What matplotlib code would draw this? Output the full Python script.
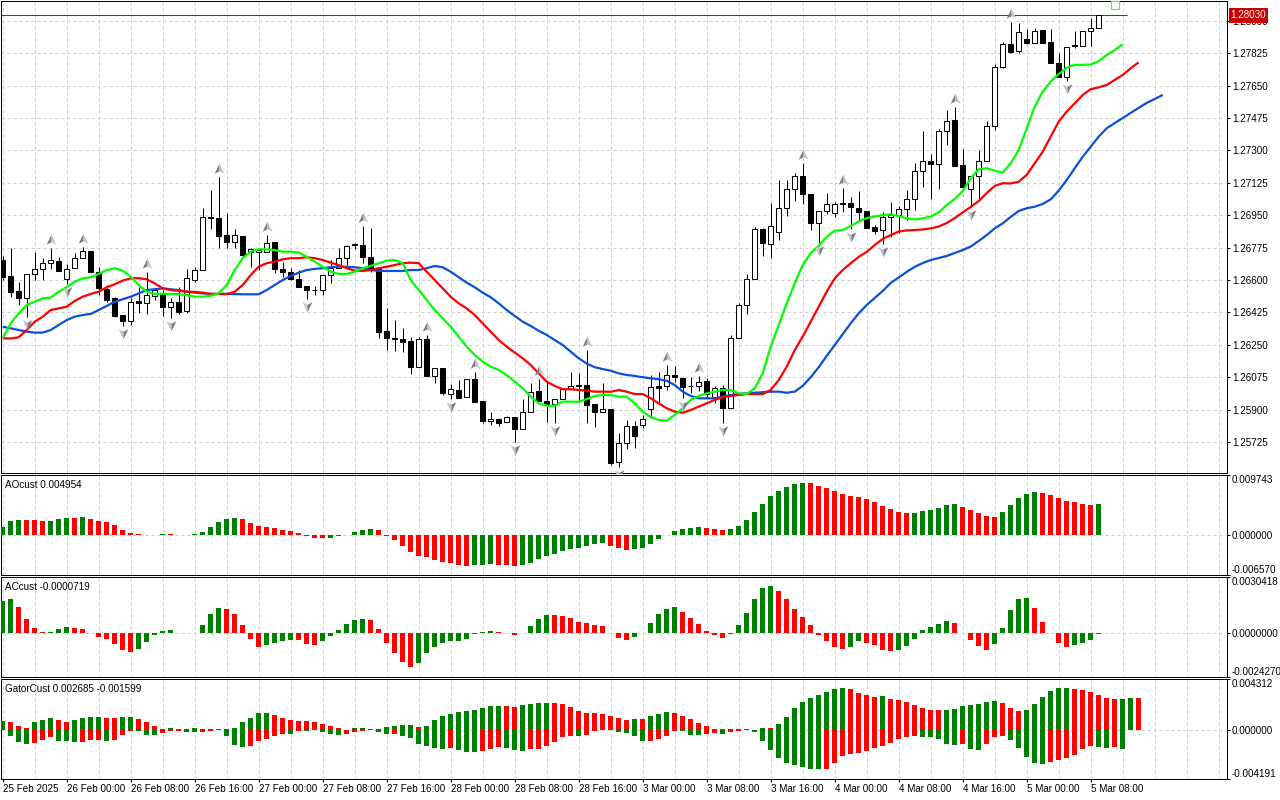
import numpy as np
import matplotlib
matplotlib.use("Agg")
import matplotlib.pyplot as plt
from matplotlib.path import Path
from matplotlib.transforms import offset_copy, blended_transform_factory

# --- GBPUSD-like H1 candles, 25 Feb 16:00 .. 5 Mar 09:00 -------------------
opens = [
    1.26708, 1.26622, 1.26541, 1.26503, 1.26633, 1.26660, 1.26692, 1.26703, 1.26606, 1.26665,
    1.26719, 1.26757, 1.26644, 1.26552, 1.26503, 1.26411, 1.26379, 1.26487, 1.26476, 1.26514,
    1.26530, 1.26454, 1.26481, 1.26433, 1.26600, 1.26654, 1.26941, 1.26935, 1.26843, 1.26806,
    1.26838, 1.26752, 1.26752, 1.26752, 1.26806, 1.26660, 1.26644, 1.26606, 1.26568, 1.26546,
    1.26546, 1.26627, 1.26665, 1.26719, 1.26789, 1.26789, 1.26725, 1.26665, 1.26325, 1.26287,
    1.26282, 1.26271, 1.26130, 1.26282, 1.26082, 1.26125, 1.25984, 1.26006, 1.25968, 1.26065,
    1.25947, 1.25839, 1.25849, 1.25833, 1.25860, 1.25795, 1.25887, 1.26001, 1.25947, 1.25930,
    1.25957, 1.26011, 1.26033, 1.26033, 1.25930, 1.25887, 1.25903, 1.25617, 1.25720, 1.25812,
    1.25817, 1.25903, 1.26028, 1.26028, 1.26087, 1.26071, 1.26028, 1.26028, 1.26055, 1.25968,
    1.26017, 1.25909, 1.26287, 1.26465, 1.26606, 1.26876, 1.26795, 1.26860, 1.26989, 1.27092,
    1.27162, 1.27065, 1.26908, 1.26973, 1.26962, 1.27016, 1.27016, 1.26989, 1.26973, 1.26887,
    1.26870, 1.26941, 1.26951, 1.26984, 1.27038, 1.27189, 1.27243, 1.27227, 1.27405, 1.27465,
    1.27222, 1.27092, 1.27162, 1.27243, 1.27432, 1.27751, 1.27875, 1.27837, 1.27902, 1.27881,
    1.27951, 1.27886, 1.27773, 1.27697, 1.27870, 1.27864, 1.27946, 1.27962,
]
highs = [
    1.26730, 1.26773, 1.26590, 1.26633, 1.26752, 1.26719, 1.26773, 1.26725, 1.26687, 1.26746,
    1.26779, 1.26757, 1.26671, 1.26573, 1.26508, 1.26411, 1.26503, 1.26562, 1.26644, 1.26557,
    1.26546, 1.26503, 1.26562, 1.26660, 1.26671, 1.26989, 1.27087, 1.27157, 1.26962, 1.26876,
    1.26838, 1.26773, 1.26773, 1.26843, 1.26806, 1.26698, 1.26665, 1.26654, 1.26568, 1.26568,
    1.26627, 1.26708, 1.26773, 1.26789, 1.26800, 1.26892, 1.26881, 1.26665, 1.26449, 1.26384,
    1.26341, 1.26292, 1.26292, 1.26303, 1.26125, 1.26125, 1.26038, 1.26060, 1.26065, 1.26103,
    1.25947, 1.25887, 1.25855, 1.25866, 1.25860, 1.25957, 1.26044, 1.26065, 1.26049, 1.25957,
    1.26011, 1.26103, 1.26098, 1.26222, 1.25930, 1.26044, 1.25903, 1.25774, 1.25844, 1.25839,
    1.25871, 1.26087, 1.26103, 1.26141, 1.26136, 1.26076, 1.26076, 1.26082, 1.26071, 1.26028,
    1.26033, 1.26303, 1.26476, 1.26633, 1.26887, 1.26881, 1.27016, 1.27141, 1.27141, 1.27178,
    1.27232, 1.27065, 1.26973, 1.27070, 1.27022, 1.27097, 1.27049, 1.27081, 1.26973, 1.26897,
    1.26968, 1.27022, 1.27000, 1.27087, 1.27232, 1.27405, 1.27281, 1.27416, 1.27519, 1.27535,
    1.27308, 1.27162, 1.27303, 1.27459, 1.27767, 1.27886, 1.27994, 1.27989, 1.27956, 1.27962,
    1.27951, 1.27956, 1.27827, 1.27859, 1.27946, 1.27946, 1.28016, 1.28032,
]
lows = [
    1.26600, 1.26508, 1.26465, 1.26400, 1.26600, 1.26600, 1.26660, 1.26649, 1.26579, 1.26665,
    1.26719, 1.26638, 1.26519, 1.26481, 1.26400, 1.26352, 1.26357, 1.26422, 1.26417, 1.26492,
    1.26406, 1.26395, 1.26417, 1.26422, 1.26590, 1.26654, 1.26876, 1.26773, 1.26773, 1.26773,
    1.26725, 1.26671, 1.26654, 1.26752, 1.26638, 1.26617, 1.26600, 1.26562, 1.26498, 1.26519,
    1.26519, 1.26584, 1.26665, 1.26681, 1.26768, 1.26692, 1.26644, 1.26287, 1.26222, 1.26217,
    1.26211, 1.26092, 1.26130, 1.26082, 1.26044, 1.25979, 1.25957, 1.25963, 1.25968, 1.25941,
    1.25828, 1.25817, 1.25812, 1.25833, 1.25725, 1.25795, 1.25887, 1.25947, 1.25833, 1.25828,
    1.25957, 1.26011, 1.25941, 1.25828, 1.25806, 1.25887, 1.25601, 1.25590, 1.25687, 1.25693,
    1.25801, 1.25855, 1.25941, 1.26006, 1.26049, 1.25963, 1.25990, 1.26001, 1.25963, 1.25936,
    1.25828, 1.25903, 1.26287, 1.26417, 1.26606, 1.26730, 1.26719, 1.26816, 1.26946, 1.27027,
    1.27011, 1.26870, 1.26800, 1.26957, 1.26941, 1.26968, 1.26876, 1.26919, 1.26881, 1.26849,
    1.26795, 1.26833, 1.26854, 1.26924, 1.26978, 1.27103, 1.27038, 1.27092, 1.27330, 1.27216,
    1.27092, 1.26995, 1.27038, 1.27243, 1.27411, 1.27746, 1.27827, 1.27827, 1.27875, 1.27881,
    1.27881, 1.27773, 1.27697, 1.27675, 1.27854, 1.27864, 1.27864, 1.27962,
]
closes = [
    1.26617, 1.26535, 1.26503, 1.26633, 1.26660, 1.26692, 1.26708, 1.26649, 1.26660, 1.26719,
    1.26757, 1.26644, 1.26557, 1.26492, 1.26406, 1.26379, 1.26481, 1.26476, 1.26519, 1.26546,
    1.26454, 1.26481, 1.26427, 1.26611, 1.26654, 1.26941, 1.26935, 1.26838, 1.26806, 1.26843,
    1.26735, 1.26768, 1.26762, 1.26800, 1.26660, 1.26644, 1.26606, 1.26562, 1.26546, 1.26545,
    1.26627, 1.26665, 1.26719, 1.26784, 1.26795, 1.26725, 1.26665, 1.26319, 1.26287, 1.26282,
    1.26265, 1.26130, 1.26282, 1.26082, 1.26125, 1.25990, 1.26011, 1.25963, 1.26065, 1.25941,
    1.25839, 1.25849, 1.25828, 1.25860, 1.25795, 1.25887, 1.25995, 1.25947, 1.25930, 1.25957,
    1.26011, 1.26028, 1.26028, 1.25925, 1.25887, 1.25903, 1.25612, 1.25720, 1.25812, 1.25758,
    1.25849, 1.26022, 1.26017, 1.26087, 1.26076, 1.26022, 1.26027, 1.26049, 1.25984, 1.26017,
    1.25909, 1.26287, 1.26465, 1.26606, 1.26876, 1.26800, 1.26892, 1.26989, 1.27092, 1.27162,
    1.27065, 1.26908, 1.26973, 1.27011, 1.27011, 1.27011, 1.26995, 1.26968, 1.26881, 1.26865,
    1.26941, 1.26951, 1.26984, 1.27038, 1.27189, 1.27243, 1.27227, 1.27405, 1.27459, 1.27216,
    1.27103, 1.27162, 1.27243, 1.27432, 1.27751, 1.27875, 1.27832, 1.27940, 1.27881, 1.27946,
    1.27881, 1.27773, 1.27697, 1.27859, 1.27864, 1.27946, 1.27962, 1.28030,
]

# Alligator lines (already shifted forward: lips +3, teeth +5, jaw +8 bars)
lips = [
    1.26285, 1.26366, 1.26420, 1.26465, 1.26483, 1.26501, 1.26505, 1.26537, 1.26561, 1.26591,
    1.26609, 1.26615, 1.26633, 1.26654, 1.26664, 1.26651, 1.26618, 1.26573, 1.26537, 1.26525,
    1.26526, 1.26525, 1.26524, 1.26519, 1.26510, 1.26510, 1.26515, 1.26528, 1.26573, 1.26654,
    1.26718, 1.26753, 1.26766, 1.26766, 1.26762, 1.26753, 1.26753, 1.26749, 1.26726, 1.26699,
    1.26672, 1.26645, 1.26633, 1.26633, 1.26645, 1.26664, 1.26676, 1.26691, 1.26705, 1.26708,
    1.26691, 1.26600, 1.26546, 1.26492, 1.26438, 1.26393, 1.26348, 1.26294, 1.26240, 1.26195,
    1.26159, 1.26132, 1.26114, 1.26087, 1.26051, 1.26015, 1.25970, 1.25934, 1.25921, 1.25921,
    1.25943, 1.25943, 1.25942, 1.25957, 1.25974, 1.25979, 1.25979, 1.25970, 1.25970, 1.25934,
    1.25889, 1.25859, 1.25844, 1.25840, 1.25871, 1.25907, 1.25952, 1.25974, 1.25988, 1.25997,
    1.26006, 1.26006, 1.25988, 1.25984, 1.26015, 1.26096, 1.26240, 1.26357, 1.26474, 1.26582,
    1.26681, 1.26745, 1.26784, 1.26834, 1.26867, 1.26870, 1.26892, 1.26916, 1.26935, 1.26943,
    1.26951, 1.26954, 1.26946, 1.26933, 1.26927, 1.26933, 1.26943, 1.26965, 1.27005, 1.27038,
    1.27081, 1.27150, 1.27198, 1.27204, 1.27191, 1.27180, 1.27231, 1.27303, 1.27420, 1.27537,
    1.27618, 1.27672, 1.27713, 1.27747, 1.27762, 1.27763, 1.27764, 1.27783, 1.27816, 1.27843,
    1.27874,
]
teeth = [
    1.26285, 1.26284, 1.26291, 1.26330, 1.26375, 1.26402, 1.26438, 1.26447, 1.26456, 1.26487,
    1.26510, 1.26525, 1.26537, 1.26561, 1.26577, 1.26597, 1.26609, 1.26610, 1.26604, 1.26582,
    1.26555, 1.26546, 1.26542, 1.26537, 1.26536, 1.26532, 1.26525, 1.26525, 1.26524, 1.26537,
    1.26573, 1.26627, 1.26672, 1.26691, 1.26699, 1.26712, 1.26718, 1.26718, 1.26723, 1.26718,
    1.26708, 1.26694, 1.26681, 1.26664, 1.26651, 1.26649, 1.26654, 1.26664, 1.26672, 1.26681,
    1.26691, 1.26694, 1.26691, 1.26645, 1.26600, 1.26555, 1.26510, 1.26474, 1.26447, 1.26411,
    1.26366, 1.26321, 1.26276, 1.26240, 1.26208, 1.26177, 1.26141, 1.26096, 1.26051, 1.26028,
    1.26010, 1.26010, 1.26006, 1.26003, 1.25997, 1.25997, 1.25996, 1.26006, 1.25997, 1.25984,
    1.25984, 1.25961, 1.25934, 1.25907, 1.25889, 1.25883, 1.25898, 1.25916, 1.25934, 1.25952,
    1.25967, 1.25974, 1.25979, 1.25984, 1.25984, 1.25984, 1.26006, 1.26060, 1.26132, 1.26222,
    1.26294, 1.26375, 1.26456, 1.26537, 1.26609, 1.26654, 1.26691, 1.26725, 1.26752, 1.26789,
    1.26822, 1.26843, 1.26862, 1.26868, 1.26870, 1.26873, 1.26879, 1.26889, 1.26908, 1.26935,
    1.26965, 1.26995, 1.27027, 1.27070, 1.27108, 1.27123, 1.27122, 1.27131, 1.27168, 1.27231,
    1.27293, 1.27375, 1.27456, 1.27510, 1.27555, 1.27600, 1.27631, 1.27641, 1.27654, 1.27681,
    1.27708, 1.27744, 1.27776,
]
jaw = [
    1.26348, 1.26339, 1.26330, 1.26321, 1.26316, 1.26316, 1.26330, 1.26357, 1.26384, 1.26402,
    1.26411, 1.26417, 1.26438, 1.26460, 1.26483, 1.26496, 1.26510, 1.26528, 1.26546, 1.26550,
    1.26555, 1.26550, 1.26546, 1.26537, 1.26532, 1.26528, 1.26525, 1.26525, 1.26525, 1.26524,
    1.26523, 1.26523, 1.26523, 1.26546, 1.26573, 1.26600, 1.26622, 1.26640, 1.26654, 1.26660,
    1.26664, 1.26669, 1.26672, 1.26672, 1.26669, 1.26664, 1.26654, 1.26649, 1.26649, 1.26649,
    1.26649, 1.26654, 1.26654, 1.26664, 1.26676, 1.26669, 1.26645, 1.26615, 1.26586, 1.26561,
    1.26532, 1.26507, 1.26474, 1.26438, 1.26406, 1.26375, 1.26352, 1.26326, 1.26303, 1.26276,
    1.26249, 1.26213, 1.26177, 1.26149, 1.26129, 1.26119, 1.26110, 1.26096, 1.26087, 1.26082,
    1.26075, 1.26069, 1.26064, 1.26056, 1.26033, 1.25997, 1.25974, 1.25961, 1.25961, 1.25961,
    1.25970, 1.25979, 1.25984, 1.25988, 1.25991, 1.25994, 1.25997, 1.25997, 1.25991, 1.25997,
    1.26028, 1.26075, 1.26129, 1.26190, 1.26249, 1.26309, 1.26366, 1.26420, 1.26465, 1.26503,
    1.26541, 1.26584, 1.26614, 1.26644, 1.26671, 1.26692, 1.26708, 1.26719, 1.26730, 1.26746,
    1.26762, 1.26781, 1.26811, 1.26843, 1.26879, 1.26906, 1.26941, 1.26973, 1.26988, 1.26996,
    1.27011, 1.27036, 1.27083, 1.27140, 1.27204, 1.27266, 1.27320, 1.27375, 1.27420, 1.27448,
    1.27475, 1.27503, 1.27530, 1.27557, 1.27578, 1.27600,
]

fractal_up = [6, 10, 18, 27, 33, 45, 53, 59, 67, 73, 83, 87, 100, 105, 119, 126]
fractal_down = [3, 8, 15, 21, 38, 56, 64, 69, 77, 85, 90, 102, 106, 110, 121, 133]
shift_marker = (139, 1.28084)

# --- oscillators ----------------------------------------------------------
ao = [
    0.00126, 0.00231, 0.00247, 0.00244, 0.00242, 0.00231, 0.00232, 0.00264, 0.00280, 0.00279,
    0.00281, 0.00264, 0.00231, 0.00214, 0.00165, 0.00082, 0.00033, 0.00011, -0.00003, -0.00001,
    0.00017, 0.00015, -0.00003, -0.00002, 0.00004, 0.00049, 0.00132, 0.00214, 0.00264, 0.00280,
    0.00264, 0.00198, 0.00148, 0.00132, 0.00115, 0.00082, 0.00066, 0.00033, -0.00016, -0.00049,
    -0.00050, -0.00048, -0.00027, -0.00005, 0.00049, 0.00082, 0.00099, 0.00082, -0.00016, -0.00082,
    -0.00181, -0.00286, -0.00352, -0.00368, -0.00406, -0.00439, -0.00456, -0.00489, -0.00505, -0.00490,
    -0.00487, -0.00485, -0.00488, -0.00492, -0.00505, -0.00490, -0.00456, -0.00390, -0.00341, -0.00308,
    -0.00258, -0.00225, -0.00209, -0.00176, -0.00159, -0.00143, -0.00176, -0.00209, -0.00242, -0.00225,
    -0.00222, -0.00159, -0.00077, -0.00011, 0.00055, 0.00088, 0.00104, 0.00121, 0.00104, 0.00088,
    0.00071, 0.00088, 0.00137, 0.00236, 0.00368, 0.00500, 0.00632, 0.00714, 0.00780, 0.00829,
    0.00846, 0.00843, 0.00796, 0.00764, 0.00714, 0.00665, 0.00632, 0.00615, 0.00582, 0.00533,
    0.00467, 0.00417, 0.00368, 0.00352, 0.00353, 0.00385, 0.00401, 0.00434, 0.00483, 0.00500,
    0.00450, 0.00401, 0.00352, 0.00302, 0.00286, 0.00368, 0.00483, 0.00599, 0.00665, 0.00698,
    0.00681, 0.00648, 0.00599, 0.00549, 0.00533, 0.00500, 0.00483, 0.004954,
]
ac = [
    0.00171, 0.00182, 0.00139, 0.00073, 0.00024, 0.00002, 0.00004, 0.00018, 0.00029, 0.00024,
    0.00018, -0.00001, -0.00026, -0.00036, -0.00064, -0.00097, -0.00108, -0.00091, -0.00053, -0.00015,
    0.00007, 0.00013, -0.00001, -0.00002, 0.00000, 0.00040, 0.00100, 0.00133, 0.00128, 0.00100,
    0.00040, -0.00036, -0.00080, -0.00069, -0.00058, -0.00047, -0.00042, -0.00043, -0.00064, -0.00065,
    -0.00047, -0.00020, 0.00013, 0.00046, 0.00067, 0.00073, 0.00067, 0.00018, -0.00058, -0.00113,
    -0.00162, -0.00190, -0.00168, -0.00113, -0.00080, -0.00058, -0.00047, -0.00046, -0.00036, -0.00009,
    0.00002, 0.00011, 0.00005, -0.00002, -0.00015, 0.00000, 0.00038, 0.00077, 0.00098, 0.00097,
    0.00093, 0.00082, 0.00060, 0.00055, 0.00044, 0.00038, -0.00004, -0.00031, -0.00042, -0.00026,
    0.00000, 0.00055, 0.00104, 0.00131, 0.00142, 0.00115, 0.00082, 0.00049, 0.00011, -0.00015,
    -0.00027, -0.00009, 0.00044, 0.00109, 0.00186, 0.00246, 0.00257, 0.00230, 0.00186, 0.00131,
    0.00088, 0.00044, -0.00015, -0.00047, -0.00080, -0.00091, -0.00080, -0.00047, -0.00058, -0.00069,
    -0.00097, -0.00098, -0.00096, -0.00075, -0.00036, 0.00016, 0.00033, 0.00049, 0.00066, 0.00055,
    -0.00004, -0.00042, -0.00075, -0.00097, -0.00064, 0.00027, 0.00126, 0.00186, 0.00187, 0.00137,
    0.00060, -0.00004, -0.00058, -0.00080, -0.00069, -0.00058, -0.00042, -0.0000719,
]
gator_up = [
    0.00071, 0.00068, 0.00034, 0.00011, 0.00062, 0.00085, 0.00102, 0.00085, 0.00068, 0.00079,
    0.00096, 0.00110, 0.00111, 0.00102, 0.00101, 0.00110, 0.00111, 0.00093, 0.00068, 0.00034,
    0.00006, 0.00017, 0.00009, 0.00006, 0.00017, 0.00003, 0.00009, 0.00008, 0.00009, 0.00017,
    0.00062, 0.00102, 0.00139, 0.00144, 0.00127, 0.00096, 0.00085, 0.00077, 0.00076, 0.00068,
    0.00051, 0.00034, 0.00014, 0.00001, 0.00014, 0.00017, 0.00006, 0.00005, 0.00023, 0.00034,
    0.00040, 0.00042, 0.00026, 0.00034, 0.00085, 0.00119, 0.00136, 0.00153, 0.00161, 0.00170,
    0.00187, 0.00204, 0.00205, 0.00203, 0.00195, 0.00212, 0.00221, 0.00229, 0.00230, 0.00229,
    0.00221, 0.00195, 0.00161, 0.00145, 0.00144, 0.00136, 0.00119, 0.00102, 0.00085, 0.00093,
    0.00092, 0.00119, 0.00136, 0.00153, 0.00145, 0.00119, 0.00093, 0.00060, 0.00034, 0.00009,
    0.00006, 0.00005, 0.00008, 0.00006, 0.00001, 0.00017, 0.00011, 0.00051, 0.00110, 0.00187,
    0.00238, 0.00272, 0.00298, 0.00323, 0.00348, 0.00357, 0.00348, 0.00315, 0.00298, 0.00280,
    0.00289, 0.00263, 0.00255, 0.00238, 0.00212, 0.00187, 0.00170, 0.00169, 0.00171, 0.00178,
    0.00204, 0.00212, 0.00221, 0.00238, 0.00246, 0.00229, 0.00187, 0.00161, 0.00170, 0.00221,
    0.00280, 0.00331, 0.00357, 0.00358, 0.00348, 0.00340, 0.00323, 0.00298, 0.00272, 0.00264,
    0.00265, 0.00272, 0.002685,
]
gator_down = [
    0.00000, -0.00057, -0.00108, -0.00125, -0.00116, -0.00091, -0.00065, -0.00093, -0.00099, -0.00105,
    -0.00104, -0.00085, -0.00084, -0.00093, -0.00085, -0.00048, -0.00014, -0.00015, -0.00042, -0.00048,
    -0.00031, -0.00014, -0.00011, -0.00017, -0.00023, -0.00022, -0.00009, -0.00006, -0.00057, -0.00127,
    -0.00150, -0.00136, -0.00099, -0.00077, -0.00057, -0.00034, -0.00040, -0.00014, -0.00015, -0.00006,
    -0.00017, -0.00040, -0.00048, -0.00040, -0.00023, -0.00011, -0.00006, -0.00017, -0.00040, -0.00039,
    -0.00057, -0.00074, -0.00125, -0.00142, -0.00159, -0.00160, -0.00159, -0.00176, -0.00187, -0.00193,
    -0.00184, -0.00167, -0.00150, -0.00159, -0.00176, -0.00177, -0.00167, -0.00166, -0.00142, -0.00108,
    -0.00065, -0.00051, -0.00057, -0.00048, -0.00014, -0.00006, -0.00001, -0.00023, -0.00031, -0.00057,
    -0.00099, -0.00098, -0.00082, -0.00057, -0.00009, -0.00014, -0.00048, -0.00049, -0.00040, -0.00031,
    -0.00040, -0.00023, -0.00014, -0.00006, -0.00023, -0.00099, -0.00176, -0.00244, -0.00283, -0.00303,
    -0.00320, -0.00337, -0.00338, -0.00336, -0.00286, -0.00227, -0.00210, -0.00201, -0.00184, -0.00159,
    -0.00142, -0.00116, -0.00082, -0.00065, -0.00057, -0.00058, -0.00065, -0.00082, -0.00125, -0.00133,
    -0.00125, -0.00167, -0.00176, -0.00125, -0.00065, -0.00057, -0.00091, -0.00159, -0.00235, -0.00286,
    -0.00295, -0.00278, -0.00261, -0.00244, -0.00218, -0.00167, -0.00142, -0.00150, -0.00158, -0.00150,
    -0.001599,
]

# axis scales as printed on the right-hand side
price_ticks = [1.25725, 1.25900, 1.26075, 1.26250, 1.26425, 1.26600, 1.26775,
               1.26950, 1.27125, 1.27300, 1.27475, 1.27650, 1.27825, 1.28000]
ao_range = (-0.006570, 0.009743)
ac_range = (-0.0024270, 0.0030418)
gator_range = (-0.004191, 0.004312)

date_ticks = [0, 8, 16, 24, 32, 40, 48, 56, 64, 72, 80, 88, 96, 104, 112, 120, 128, 136]
date_labels = ["25 Feb 2025", "26 Feb 00:00", "26 Feb 08:00", "26 Feb 16:00",
               "27 Feb 00:00", "27 Feb 08:00", "27 Feb 16:00", "28 Feb 00:00",
               "28 Feb 08:00", "28 Feb 16:00", "3 Mar 00:00", "3 Mar 08:00",
               "3 Mar 16:00", "4 Mar 00:00", "4 Mar 08:00", "4 Mar 16:00",
               "5 Mar 00:00", "5 Mar 08:00"]

# --- styling --------------------------------------------------------------
W, H = 1280, 800
PX = 72 / 100  # one pixel in points
GREEN, RED = "#008000", "#ff0000"
GRID = "#cfcfcf"
DASH = (0, (3, 3))
FS = 7.1

plt.rcParams["font.family"] = ["Liberation Sans", "DejaVu Sans"]
plt.rcParams["font.size"] = FS

fig = plt.figure(figsize=(W / 100, H / 100), dpi=100)
fig.patch.set_facecolor("white")

X_LEFT, X_RIGHT = 1, 1227     # plot area in pixels
BAR0, STEP = 2.7, 8.0          # first bar position / bar spacing in pixels


def panel(y0, y1):
    ax = fig.add_axes([X_LEFT / W, 1 - y1 / H, (X_RIGHT - X_LEFT) / W, (y1 - y0) / H])
    ax.set_xlim((X_LEFT - BAR0) / STEP, (X_RIGHT - BAR0) / STEP)
    for s in ax.spines.values():
        s.set_linewidth(PX)
        s.set_color("black")
    ax.yaxis.tick_right()
    ax.tick_params(axis="y", length=3 * PX, width=PX, pad=2 * PX, labelsize=FS, colors="black")
    ax.tick_params(axis="x", bottom=False, labelbottom=False)
    for gx in range(0, 154, 4):
        ax.axvline(gx, color=GRID, lw=PX, ls=DASH, zorder=0)
    ax.set_facecolor("white")
    return ax


def trend_colors(vals, magnitude=False):
    v = np.abs(vals) if magnitude else np.asarray(vals, dtype=float)
    prev = np.r_[v[0] - 1.0, v[:-1]]
    return np.where(v > prev, GREEN, RED)


def edge_labels(ax, vmin, vmax, fmt):
    ax.set_ylim(vmin, vmax)
    ax.set_yticks([vmin, 0.0, vmax])
    ax.set_yticklabels([fmt.format(vmin), fmt.format(0.0), fmt.format(vmax)])
    labs = ax.get_yticklabels()
    labs[0].set_va("bottom")
    labs[2].set_va("top")
    ax.axhline(0, color=GRID, lw=PX, ls=DASH, zorder=0)


# --- main price panel -----------------------------------------------------
ax = panel(1, 473)
o, h, l, c = map(np.asarray, (opens, highs, lows, closes))
x = np.arange(len(c))
ax.set_ylim(1.281129 - 473 * 0.000054025, 1.281129 - 1 * 0.000054025)
ax.set_yticks(price_ticks)
ax.set_yticklabels([f"{p:.5f}" for p in price_ticks])
for p in price_ticks:
    ax.axhline(p, color=GRID, lw=PX, ls=DASH, zorder=0)

ax.vlines(x, l, h, color="black", lw=PX, zorder=3)
bull = c >= o
ax.bar(x, np.abs(c - o), bottom=np.minimum(o, c), width=0.58,
       color=np.where(bull, "white", "black"), edgecolor="black", linewidth=PX, zorder=4)

ax.plot(np.arange(len(jaw)), jaw, color="#0a50d8", lw=1.6, zorder=5, solid_capstyle="butt")
ax.plot(np.arange(len(teeth)), teeth, color="#ff0000", lw=1.6, zorder=5, solid_capstyle="butt")
ax.plot(np.arange(len(lips)), lips, color="#00ff00", lw=1.6, zorder=5, solid_capstyle="butt")

# fractal arrows, two-tone arrowheads
half_l = Path([(0, 1), (-0.8, -0.7), (0, -0.3), (0, 1)], closed=True)
half_r = Path([(0, 1), (0, -0.3), (0.8, -0.7), (0, 1)], closed=True)
flip = lambda p: Path(p.vertices * [1, -1], closed=True)
up_tr = offset_copy(ax.transData, fig=fig, y=8, units="dots")
dn_tr = offset_copy(ax.transData, fig=fig, y=-7, units="dots")
fu = np.asarray(fractal_up)
fd = np.asarray(fractal_down)
DARK, LIGHT = "#7c7c86", "#c4c4cc"
for path, col in ((half_l, DARK), (half_r, LIGHT)):
    ax.scatter(fu, h[fu], marker=path, s=8.6 ** 2, c=col, linewidths=0,
               transform=up_tr, zorder=6)
for path, col in ((flip(half_l), LIGHT), (flip(half_r), DARK)):
    ax.scatter(fd, l[fd], marker=path, s=8.6 ** 2, c=col, linewidths=0,
               transform=dn_tr, zorder=6)

ax.plot(*shift_marker, marker="s", ms=5.5, mfc="none", mec="#70dd70", mew=0.9,
        clip_on=False, zorder=6)

# last price line and tag
ax.hlines(c[-1], ax.get_xlim()[0], 140.5, color="#a81818", lw=PX, zorder=2)
tag_tr = blended_transform_factory(ax.transAxes, ax.transData)
ax.text(1.0030, c[-1], f"{c[-1]:.5f}", transform=tag_tr, ha="left", va="center",
        color="white", fontsize=FS, zorder=10, clip_on=False,
        bbox=dict(boxstyle="square,pad=0.22", fc="#c80000", ec="none"))

# --- AO ---------------------------------------------------------------------
ax_ao = panel(475, 575)
ax_ao.bar(np.arange(len(ao)), ao, width=0.62, color=trend_colors(ao), zorder=3)
edge_labels(ax_ao, *ao_range, "{:.6f}")
ax_ao.text(0.0033, 0.955, f"AOcust {ao[-1]:.6f}", transform=ax_ao.transAxes,
           ha="left", va="top", fontsize=FS)

# --- AC ---------------------------------------------------------------------
ax_ac = panel(577, 677)
ax_ac.bar(np.arange(len(ac)), ac, width=0.62, color=trend_colors(ac), zorder=3)
edge_labels(ax_ac, *ac_range, "{:.7f}")
ax_ac.text(0.0033, 0.955, f"ACcust {ac[-1]:.7f}", transform=ax_ac.transAxes,
           ha="left", va="top", fontsize=FS)

# --- Gator --------------------------------------------------------------
ax_g = panel(679, 779)
ax_g.bar(np.arange(len(gator_up)), gator_up, width=0.62,
         color=trend_colors(gator_up, True), zorder=3)
ax_g.bar(np.arange(len(gator_down)), gator_down, width=0.62,
         color=trend_colors(gator_down, True), zorder=3)
edge_labels(ax_g, *gator_range, "{:.6f}")
ax_g.text(0.0033, 0.955, f"GatorCust {gator_up[-1]:.6f} {gator_down[-1]:.6f}",
          transform=ax_g.transAxes, ha="left", va="top", fontsize=FS)

ax_g.set_xticks(date_ticks)
ax_g.set_xticklabels(date_labels, ha="left")
ax_g.tick_params(axis="x", bottom=True, labelbottom=True, length=3 * PX, width=PX,
                 pad=2 * PX, labelsize=FS)

fig.savefig("out.png", dpi=100, facecolor="white")
